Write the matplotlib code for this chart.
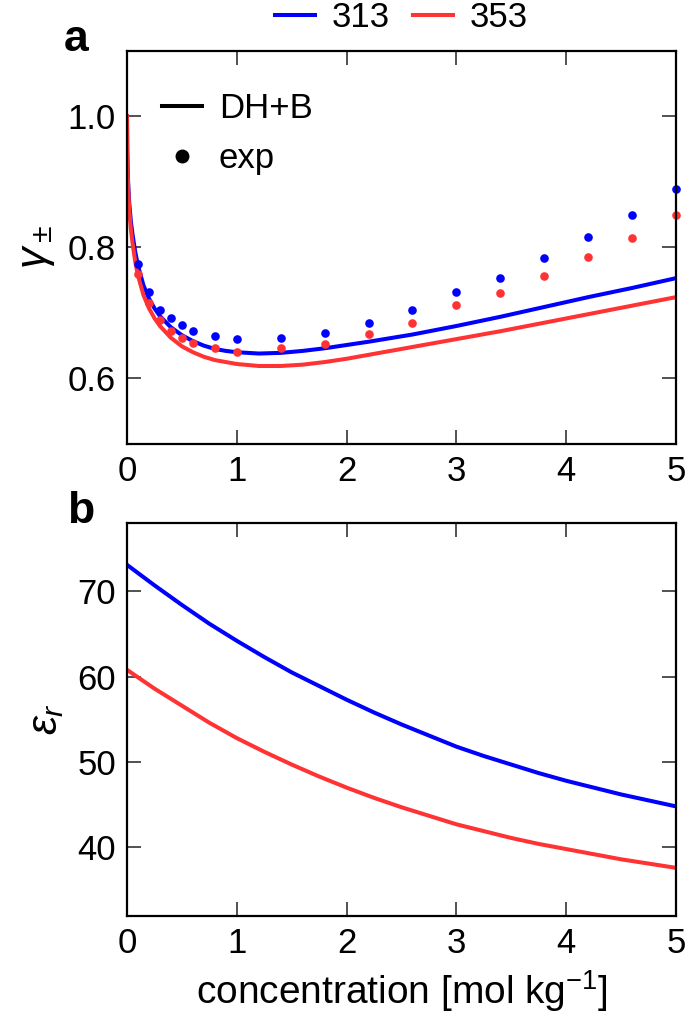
import matplotlib
matplotlib.use('Agg')
import matplotlib.pyplot as plt
from matplotlib.lines import Line2D

plt.rcParams['font.family'] = ['Liberation Sans', 'DejaVu Sans']
plt.rcParams['mathtext.fontset'] = 'custom'
plt.rcParams['mathtext.rm'] = 'Liberation Sans'
plt.rcParams['mathtext.it'] = 'Liberation Sans:italic'
plt.rcParams['font.size'] = 25

# temperaturas (K) y colores
temps = ['313', '353']
colores = ['#0000ff', '#ff3333']

# coeficiente de actividad: datos experimentales
c_exp = [0.1, 0.2, 0.3, 0.4, 0.5, 0.6, 0.8, 1.0, 1.4, 1.8, 2.2, 2.6, 3.0, 3.4, 3.8, 4.2, 4.6, 5.0]
gamma_exp_313 = [0.775, 0.732, 0.705, 0.692, 0.681, 0.673, 0.664, 0.660, 0.661, 0.669, 0.684, 0.704,
                 0.732, 0.753, 0.783, 0.815, 0.849, 0.889]
gamma_exp_353 = [0.760, 0.715, 0.689, 0.673, 0.662, 0.654, 0.646, 0.641, 0.646, 0.652, 0.668, 0.685,
                 0.712, 0.731, 0.757, 0.786, 0.814, 0.849]

# coeficiente de actividad: modelo DH+B
c_mod = [0.0, 0.002, 0.005, 0.01, 0.02, 0.035, 0.05, 0.075, 0.1, 0.15, 0.2, 0.25, 0.3, 0.4, 0.5,
         0.6, 0.7, 0.8, 0.9, 1.0, 1.2, 1.4, 1.6, 1.8, 2.0, 2.2, 2.6, 3.0, 3.4, 3.8, 4.2, 4.6, 5.0]
gamma_mod_313 = [1.0, 0.952, 0.926, 0.900, 0.868, 0.840, 0.820, 0.793, 0.772, 0.742, 0.722, 0.707,
                 0.695, 0.678, 0.666, 0.657, 0.650, 0.645, 0.642, 0.640, 0.638, 0.639, 0.642, 0.646,
                 0.651, 0.656, 0.667, 0.680, 0.694, 0.709, 0.724, 0.738, 0.753]
gamma_mod_353 = [1.0, 0.948, 0.920, 0.893, 0.859, 0.828, 0.807, 0.778, 0.757, 0.727, 0.707, 0.692,
                 0.680, 0.662, 0.649, 0.640, 0.633, 0.628, 0.625, 0.622, 0.619, 0.619, 0.621, 0.625,
                 0.630, 0.636, 0.648, 0.660, 0.672, 0.685, 0.698, 0.711, 0.724]

# permitividad relativa
c_eps = [0.0, 0.25, 0.5, 0.75, 1.0, 1.25, 1.5, 1.75, 2.0, 2.25, 2.5, 2.75, 3.0, 3.25, 3.5, 3.75,
         4.0, 4.25, 4.5, 4.75, 5.0]
eps_313 = [73.1, 70.7, 68.4, 66.2, 64.2, 62.3, 60.5, 58.9, 57.3, 55.8, 54.4, 53.1, 51.8, 50.7, 49.7,
           48.7, 47.8, 47.0, 46.2, 45.5, 44.8]
eps_353 = [60.8, 58.6, 56.6, 54.6, 52.8, 51.2, 49.7, 48.3, 47.0, 45.8, 44.7, 43.7, 42.7, 41.9, 41.1,
           40.4, 39.8, 39.2, 38.6, 38.1, 37.6]

fig = plt.figure(figsize=(6.85, 10.13), dpi=100)
ax1 = fig.add_axes([0.1854, 0.5617, 0.8015, 0.3883])
ax2 = fig.add_axes([0.1854, 0.0961, 0.8015, 0.3876])

# panel a
for g_mod, col in zip([gamma_mod_313, gamma_mod_353], colores):
    ax1.plot(c_mod, g_mod, color=col, lw=2.9)
for g_exp, col in zip([gamma_exp_313, gamma_exp_353], colores):
    ax1.plot(c_exp, g_exp, 'o', color=col, ms=6.2, mec='none', clip_on=False)

ax1.set_xlim(0, 5)
ax1.set_ylim(0.5, 1.1)
ax1.set_yticks([0.6, 0.8, 1.0])
ax1.set_ylabel(r'$\gamma_\pm$', fontsize=31, labelpad=8)

# panel b
for e, col in zip([eps_313, eps_353], colores):
    ax2.plot(c_eps, e, color=col, lw=2.9)
ax2.set_xlim(0, 5)
ax2.set_ylim(32, 78)
ax2.set_yticks([40, 50, 60, 70])
ax2.set_ylabel(r'$\varepsilon_r$', fontsize=31, labelpad=8)
ax2.set_xlabel('concentration [mol kg$^{-1}$]', fontsize=28, labelpad=6)

for ax in [ax1, ax2]:
    ax.set_xticks([0, 1, 2, 3, 4, 5])
    ax.tick_params(direction='in', top=True, right=True, length=10, width=1.2, pad=8, color='#333333')
    for s in ax.spines.values():
        s.set_linewidth(1.6)

ax1.text(-0.115, 1.0, 'a', transform=ax1.transAxes, fontsize=32, fontweight='bold', va='baseline')
ax2.text(-0.11, 1.0, 'b', transform=ax2.transAxes, fontsize=32, fontweight='bold', va='baseline')

# leyenda de temperaturas
h_temp = [Line2D([], [], color=c, lw=2.9) for c in colores]
leg1 = ax1.legend(h_temp, temps, loc='center', bbox_to_anchor=(0.5, 1.085), ncol=2, frameon=False,
                  handlelength=1.15, handletextpad=0.5, columnspacing=0.65, borderpad=0, borderaxespad=0)
ax1.add_artist(leg1)

# leyenda de tipo
h_tipo = [Line2D([], [], color='black', lw=2.9),
          Line2D([], [], color='black', marker='o', ls='none', ms=9)]
ax1.legend(h_tipo, ['DH+B', 'exp'], loc='upper left', bbox_to_anchor=(0.063, 0.895), frameon=False,
           handlelength=1.15, handletextpad=0.5, labelspacing=0.5, borderpad=0, borderaxespad=0)

fig.savefig('out.png', dpi=100)
